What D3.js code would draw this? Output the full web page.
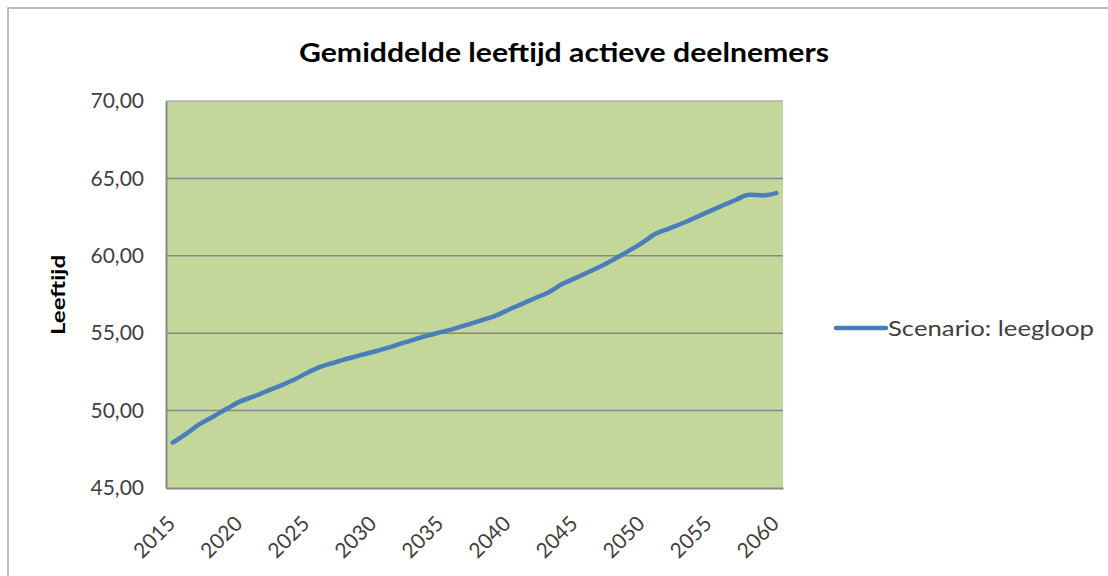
<!DOCTYPE html>
<html>
<head>
<meta charset="utf-8">
<script src="https://cdn.jsdelivr.net/npm/d3@7"></script>
<style>
  body { margin: 0; background: #fff; }
  svg text { font-family: Lato, "Open Sans", sans-serif; }
</style>
</head>
<body>
<div id="chart"></div>
<script>
// jaren 2015 - 2060
const years = d3.range(2015, 2061);
const leeftijd = [
  47.93, 48.50, 49.12, 49.60, 50.10, 50.58, 50.90, 51.25, 51.60, 51.98,
  52.43, 52.82, 53.09, 53.35, 53.58, 53.80, 54.05, 54.32, 54.59, 54.85,
  55.07, 55.30, 55.55, 55.83, 56.10, 56.50, 56.88, 57.26, 57.63, 58.16,
  58.55, 58.95, 59.35, 59.83, 60.32, 60.84, 61.42, 61.76, 62.10, 62.48,
  62.87, 63.25, 63.62, 63.94, 63.90, 64.05
];
const yTicks = [45, 50, 55, 60, 65, 70];
const xTickYears = [2015, 2020, 2025, 2030, 2035, 2040, 2045, 2050, 2055, 2060];
const seriesName = "Scenario: leegloop";
const title = "Gemiddelde leeftijd actieve deelnemers";
const yTitle = "Leeftijd";

const W = 1108, H = 576;
const plot = {left: 166, right: 783, top: 101, bottom: 488};

const nl = d3.formatLocale({decimal: ",", thousands: ".", grouping: [3], currency: ["€", ""]});
const fmt = nl.format(".2f");

const svg = d3.select("#chart").append("svg")
    .attr("width", W)
    .attr("height", H);

// kader van de grafiek
svg.append("rect")
    .attr("x", 8).attr("y", 8)
    .attr("width", W + 10).attr("height", H + 10)
    .attr("fill", "#fff")
    .attr("stroke", "#a6a6a6")
    .attr("stroke-width", 1.5);

const x = d3.scaleBand()
    .domain(years)
    .range([plot.left, plot.right])
    .padding(0);

const y = d3.scaleLinear()
    .domain([45, 70])
    .range([plot.bottom, plot.top]);

// achtergrond plotgebied
svg.append("rect")
    .attr("x", plot.left).attr("y", plot.top)
    .attr("width", plot.right - plot.left)
    .attr("height", plot.bottom - plot.top)
    .attr("fill", "#c4d79b");

// rasterlijnen
svg.append("g")
    .selectAll("line")
    .data(yTicks.filter(d => d > 45))
    .enter()
    .append("line")
    .attr("x1", plot.left).attr("x2", plot.right)
    .attr("y1", d => y(d)).attr("y2", d => y(d))
    .attr("stroke", d => d === 70 ? "#b0b0b0" : "#878787")
    .attr("stroke-width", 1.5);

// y-as
const yAxis = svg.append("g")
    .attr("transform", `translate(${plot.left},0)`)
    .call(d3.axisLeft(y).tickValues(yTicks).tickFormat(fmt).tickSize(0).tickPadding(22));
yAxis.select(".domain").attr("stroke", "#878787").attr("stroke-width", 2);
yAxis.selectAll("text")
    .attr("font-size", 21)
    .attr("fill", "#404040");

// x-as
const xAxis = svg.append("g")
    .attr("transform", `translate(0,${plot.bottom})`)
    .call(d3.axisBottom(x).tickValues(xTickYears).tickSize(0).tickPadding(0));
xAxis.select(".domain").attr("stroke", "#878787").attr("stroke-width", 2);
xAxis.selectAll("text")
    .attr("font-size", 21)
    .attr("fill", "#404040")
    .attr("text-anchor", "end")
    .attr("dy", null)
    .attr("y", 0)
    .attr("transform", "translate(4,37) rotate(-45)");

// lijn
const line = d3.line()
    .x((d, i) => x(years[i]) + x.bandwidth() / 2)
    .y(d => y(d))
    .curve(d3.curveMonotoneX);

svg.append("path")
    .datum(leeftijd)
    .attr("fill", "none")
    .attr("stroke", "#4a7ebb")
    .attr("stroke-width", 4.5)
    .attr("stroke-linecap", "round")
    .attr("stroke-linejoin", "round")
    .attr("d", line);

// titel
svg.append("text")
    .attr("x", 564)
    .attr("y", 62)
    .attr("text-anchor", "middle")
    .attr("font-size", 27)
    .attr("font-weight", "bold")
    .attr("fill", "#000")
    .attr("textLength", 530)
    .attr("lengthAdjust", "spacingAndGlyphs")
    .text(title);

// as-titel
svg.append("text")
    .attr("transform", `translate(65,295) rotate(-90)`)
    .attr("text-anchor", "middle")
    .attr("font-size", 19)
    .attr("font-weight", "bold")
    .attr("fill", "#000")
    .attr("textLength", 80)
    .attr("lengthAdjust", "spacingAndGlyphs")
    .text(yTitle);

// legenda
const legend = svg.append("g").attr("transform", "translate(836,328)");
legend.append("line")
    .attr("x1", 0).attr("x2", 50)
    .attr("y1", 0).attr("y2", 0)
    .attr("stroke", "#4a7ebb")
    .attr("stroke-width", 4.5)
    .attr("stroke-linecap", "round");
legend.append("text")
    .attr("x", 52)
    .attr("y", 8)
    .attr("font-size", 21)
    .attr("fill", "#404040")
    .attr("textLength", 206)
    .attr("lengthAdjust", "spacingAndGlyphs")
    .text(seriesName);
</script>
</body>
</html>
